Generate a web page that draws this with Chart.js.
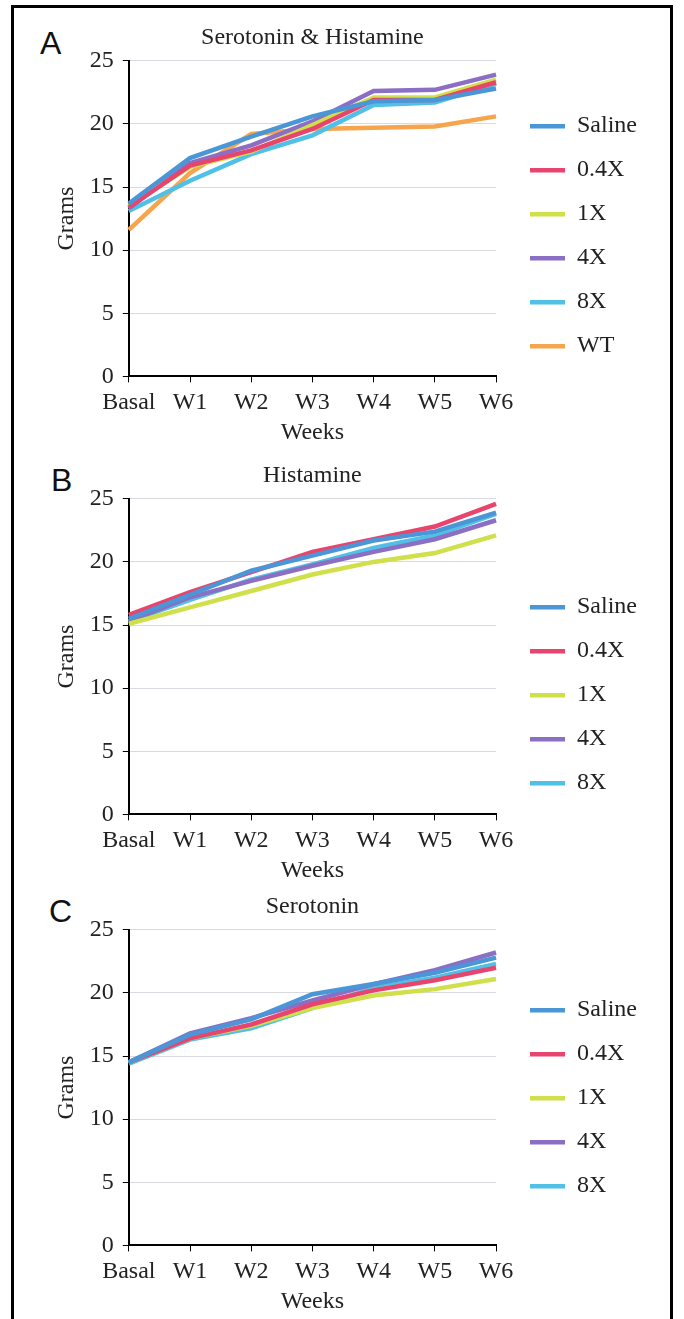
<!DOCTYPE html>
<html>
<head>
<meta charset="utf-8">
<script src="https://cdn.jsdelivr.net/npm/chart.js@4"></script>
<style>
  body { margin: 0; background: #fff; width: 684px; height: 1319px; overflow: hidden; position: relative; }
  .frame { position: absolute; left: 11px; top: 5px; width: 662px; height: 1330px; border: 3px solid #000; box-sizing: border-box; }
  .panel { position: absolute; left: 0; width: 684px; height: 434px; }
  .letter { position: absolute; font-family: "Liberation Sans", Arial, sans-serif; font-size: 32px; color: #111; line-height: 1; }
</style>
</head>
<body>
<div class="frame"></div>
<div class="letter" style="left:40px;top:27px;">A</div>
<div class="letter" style="left:51px;top:464px;">B</div>
<div class="letter" style="left:49px;top:895px;">C</div>
<div class="panel" style="top:15px;"><canvas id="chartA"></canvas></div>
<div class="panel" style="top:453px;"><canvas id="chartB"></canvas></div>
<div class="panel" style="top:884px;"><canvas id="chartC"></canvas></div>
<script>
// categories and ticks
const weeks = ['Basal', 'W1', 'W2', 'W3', 'W4', 'W5', 'W6'];
const seriesNames = ['Saline', '0.4X', '1X', '4X', '8X', 'WT'];
const seriesColors = ['#4a96d6', '#e8456e', '#cfe04a', '#8a6fc4', '#50c0e6', '#f6a54c'];

// A - Serotonin & Histamine
const salineA = [13.7, 17.3, 19.0, 20.6, 21.8, 21.9, 22.8];
const x04A    = [13.4, 16.7, 17.9, 19.6, 21.9, 21.9, 23.3];
const x1A     = [13.5, 16.6, 17.8, 19.9, 22.1, 22.1, 23.5];
const x4A     = [13.3, 16.9, 18.3, 20.2, 22.6, 22.7, 23.9];
const x8A     = [13.1, 15.5, 17.6, 19.1, 21.5, 21.7, 23.2];
const wtA     = [11.6, 16.1, 19.2, 19.6, 19.7, 19.8, 20.6];

// B - Histamine
const salineB = [15.5, 17.4, 19.3, 20.5, 21.7, 22.4, 23.9];
const x04B    = [15.8, 17.6, 19.2, 20.8, 21.8, 22.8, 24.6];
const x1B     = [15.1, 16.4, 17.7, 19.0, 20.0, 20.7, 22.1];
const x4B     = [15.3, 17.2, 18.5, 19.7, 20.8, 21.8, 23.3];
const x8B     = [15.3, 17.0, 18.6, 19.8, 21.1, 22.1, 23.8];

// C - Serotonin
const salineC = [14.5, 16.7, 17.9, 19.9, 20.7, 21.6, 22.8];
const x04C    = [14.5, 16.4, 17.5, 19.1, 20.2, 21.0, 22.0];
const x1C     = [14.5, 16.4, 17.4, 18.8, 19.8, 20.3, 21.1];
const x4C     = [14.5, 16.8, 18.0, 19.4, 20.7, 21.8, 23.2];
const x8C     = [14.4, 16.3, 17.2, 18.8, 20.4, 21.2, 22.3];

const yTicks = [0, 5, 10, 15, 20, 25];

const serif = '"Liberation Serif", "Times New Roman", serif';

// nudge the legend a bit away from the plot
const legendShift = {
  id: 'legendShift',
  afterLayout(chart) {
    const lg = chart.legend;
    if (lg) { lg.left += 14; lg.right += 14; }
  }
};

function makeChart(id, title, seriesList, legendOffset) {
  const ctx = document.getElementById(id).getContext('2d');
  const datasets = seriesList.map((vals, i) => ({
    label: seriesNames[i],
    data: vals,
    borderColor: seriesColors[i],
    backgroundColor: seriesColors[i],
    borderWidth: 4.5,
    pointRadius: 0,
    tension: 0
  }));
  return new Chart(ctx, {
    type: 'line',
    data: { labels: weeks, datasets: datasets },
    plugins: [legendShift],
    options: {
      responsive: true,
      maintainAspectRatio: false,
      animation: false,
      layout: { padding: { left: 52, right: 51, top: 0, bottom: 0 } },
      plugins: {
        title: {
          display: true,
          text: title,
          fullSize: false,
          color: '#222',
          font: { family: serif, size: 24, weight: 'normal' },
          padding: { top: 8, bottom: 9 }
        },
        legend: {
          display: true,
          position: 'right',
          align: 'start',
          fullSize: true,
          title: { display: true, text: '', font: { size: 1 }, padding: { top: legendOffset, bottom: 0 } },
          labels: {
            usePointStyle: true,
            pointStyle: 'line',
            pointStyleWidth: 35,
            padding: 20,
            color: '#222',
            font: { family: serif, size: 24 }
          }
        },
        tooltip: { enabled: false }
      },
      scales: {
        x: {
          offset: false,
          border: { color: '#000', width: 2 },
          grid: { drawOnChartArea: false, drawTicks: true, tickLength: 6, tickColor: '#000' },
          ticks: { color: '#222', padding: 6, maxRotation: 0, font: { family: serif, size: 24 } },
          title: { display: true, text: 'Weeks', color: '#222', font: { family: serif, size: 24 }, padding: { top: -5, bottom: 2 } }
        },
        y: {
          min: 0,
          max: 25,
          afterBuildTicks: axis => { axis.ticks = yTicks.map(v => ({ value: v })); },
          border: { color: '#000', width: 2 },
          grid: { color: '#d9d9e0', lineWidth: 1, drawTicks: true, tickLength: 6, tickColor: '#000' },
          ticks: { color: '#222', padding: 9, font: { family: serif, size: 24 } },
          title: { display: true, text: 'Grams', color: '#222', font: { family: serif, size: 24 }, padding: { top: 0, bottom: 0 } }
        }
      }
    }
  });
}

makeChart('chartA', 'Serotonin & Histamine', [salineA, x04A, x1A, x4A, x8A, wtA], 78);
makeChart('chartB', 'Histamine', [salineB, x04B, x1B, x4B, x8B], 121);
makeChart('chartC', 'Serotonin', [salineC, x04C, x1C, x4C, x8C], 93);
</script>
</body>
</html>
